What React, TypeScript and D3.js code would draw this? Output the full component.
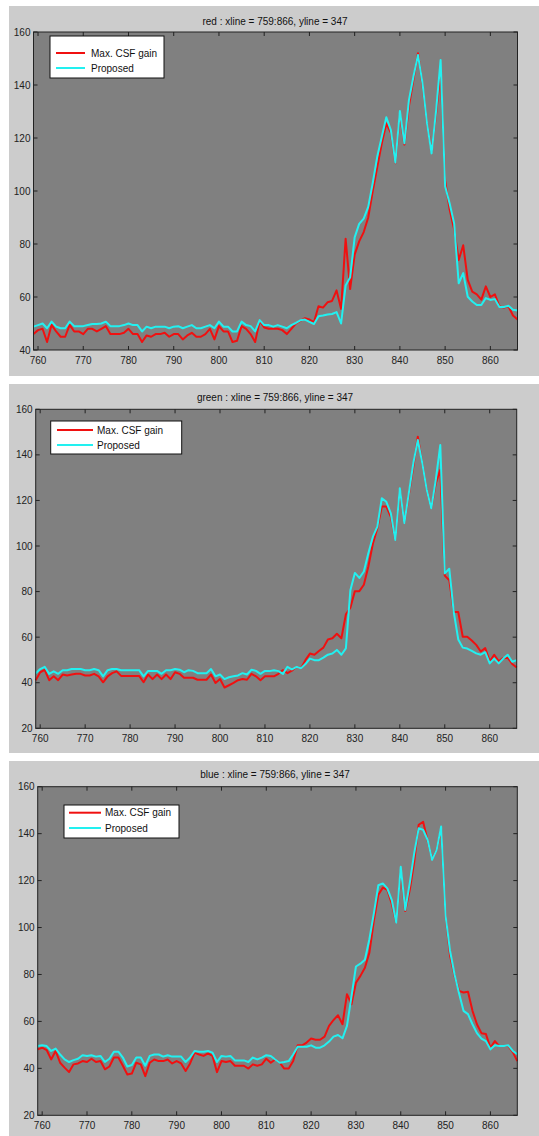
import React from 'react';
import * as d3 from 'd3';

// xline = 759:866
const xline = d3.range(759, 867);
const xTicks = [760, 770, 780, 790, 800, 810, 820, 830, 840, 850, 860];
const seriesNames = ['Max. CSF gain', 'Proposed'];

const redCsf = [
  46, 47.5, 48, 43, 49.5, 47, 45, 45, 49.5, 47, 47, 46, 48, 48, 47, 48, 49, 46, 46, 46,
  46.5, 48, 46, 46, 43, 45.5, 45, 46, 46, 46.5, 45, 46, 46, 44, 45.5, 46.5, 45, 45, 46, 48,
  44, 49, 47, 47, 43, 43.5, 49, 48, 46, 43, 51, 48.5, 48, 48, 48, 47.5, 46, 48, 50, 51,
  52, 51.5, 50.5, 56.5, 56, 58, 58.5, 62.5, 55.5, 82, 63, 76, 81, 84.5, 90, 100, 109, 118, 125.5, 122,
  110.5, 129, 117.5, 132, 142, 152, 140, 125.5, 115, 129, 145, 104, 93, 85.5, 74, 79.5, 66.5, 62, 61, 59,
  64, 60, 61, 56.5, 56, 56.5, 53, 51.5,
];
const redProp = [
  48.8, 49.4, 50, 48.2, 50.7, 48.8, 48.2, 48.2, 50.7, 49, 49, 49, 49.4, 49.8, 49.8, 50, 50.7, 49, 49, 49,
  49.4, 50, 49.4, 49.4, 47, 48.8, 48.2, 48.8, 48.8, 48.8, 48.2, 48.8, 49, 48.2, 48.8, 49.4, 48.2, 48.2, 48.8, 49.4,
  48.2, 50.7, 48.8, 48.8, 47, 47, 50.7, 49.4, 49, 47, 51.3, 49.4, 49.4, 48.8, 49.4, 48.8, 48.2, 49.4, 50.2, 51.2,
  51.5, 50.6, 49.8, 52.7, 53, 53.4, 53.6, 54.3, 50, 64.3, 67.4, 82.5, 87.6, 89.6, 94, 103, 113, 120.5, 127.8, 123,
  110.7, 130.2, 118, 134.3, 143.2, 151.3, 140.7, 125.5, 114.2, 130.2, 149.4, 101.8, 95.3, 87.7, 65.2, 69, 60.1, 58.3, 57, 57,
  59.6, 58.9, 59.2, 56.2, 56.2, 56.7, 55.2, 54.9,
];

const greenCsf = [
  41.1, 44.6, 45.6, 41.1, 42.8, 41.1, 43.6, 43.2, 43.6, 43.9, 43.9, 43.2, 43.2, 43.9, 42.8, 40.2, 42.8, 44.2, 45, 43,
  43, 43, 43, 43, 40.2, 43.6, 41.6, 43.6, 41.6, 43.6, 41.6, 44.6, 43.9, 42.2, 42.2, 42.2, 41.3, 41.3, 41.3, 43.6,
  39.9, 41.6, 37.9, 38.9, 39.9, 41.1, 41.6, 41.3, 43.9, 42.8, 41.1, 42.8, 42.8, 42.8, 43.9, 45.6, 44.2, 45.3, 47, 46.3,
  49.9, 52.8, 52.3, 53.9, 55.4, 59, 59.5, 61.5, 59.5, 70, 72.9, 80.2, 80.2, 83, 91, 101, 107.8, 117.3, 117.3, 112.8,
  102.6, 124.6, 110, 122.5, 134.8, 148, 136.3, 124.6, 116.5, 127.5, 133.4, 87, 85, 71, 71, 60.2, 60.2, 58.5, 56.6, 53.7,
  55.2, 49.4, 52.3, 49.4, 50.9, 51, 48.2, 46.7,
];
const greenProp = [
  44.1, 46, 47, 43.9, 45, 43.9, 45.5, 45.5, 46, 46, 46, 45.5, 45.5, 46, 45.5, 42.8, 45.5, 46, 46, 45.5,
  45.5, 45.5, 45.5, 45.5, 42.8, 45.2, 45.2, 45.2, 43.9, 45.5, 45.5, 46, 45.7, 44.6, 45.5, 45.2, 44.2, 44.2, 44.2, 46,
  42.8, 43.6, 41.6, 42.4, 42.8, 43.2, 44.2, 43.6, 45.7, 45.2, 43.9, 45.2, 45.1, 45.5, 45.1, 43.9, 47, 45.8, 47, 46.3,
  48.2, 50.6, 49.9, 49.9, 51, 52.3, 52.8, 54.4, 52.3, 55.1, 80.6, 88.2, 86, 88.8, 96.8, 104, 108.5, 121, 119.4, 114.3,
  102.6, 125.4, 110, 123.2, 136.3, 146.5, 136.3, 124.6, 116.5, 129, 144.3, 88, 90, 71, 59, 55.4, 55, 54, 52.9, 52.3,
  53.4, 48.5, 50.6, 48.5, 50.6, 52.3, 49.2, 49.9,
];

const blueCsf = [
  48.1, 48.8, 47.8, 43.8, 47.4, 42.4, 40.3, 38.4, 41.7, 42.1, 43.1, 42.7, 44.1, 42.7, 43.1, 39.6, 40.8, 44.6, 44.6, 41.1,
  37.4, 37.8, 42.4, 41.7, 36.7, 42.4, 43.8, 43.1, 43.1, 43.8, 42.1, 43.1, 42.1, 38.9, 42.1, 46.7, 45.9, 45.3, 46.4, 45.3,
  38.4, 43.1, 42.7, 43.1, 41.1, 41.1, 41.1, 39.9, 41.7, 41.1, 41.7, 44.1, 42.4, 43.8, 42.4, 39.9, 39.9, 43.1, 49.8, 49.8,
  51, 52.7, 52.2, 52.2, 53.5, 58.1, 60.6, 62.6, 58.8, 71.6, 67.3, 76.5, 79.4, 82.9, 89.3, 103, 114, 117, 116, 110,
  102, 124, 107, 116, 128, 143.8, 145, 137, 129, 133, 142, 105, 88, 79.4, 73, 72.3, 72.6, 64.5, 58.8, 55,
  54.6, 48.8, 51.6, 49.5, 49.5, 49.5, 46.9, 43.1,
];
const blueProp = [
  49.5, 49.8, 49.5, 47.4, 48.4, 45.9, 43.8, 42.7, 43.5, 44.1, 45.6, 45.3, 45.6, 45, 45.3, 42.7, 44.1, 47.1, 47.1, 44.6,
  40.8, 41.4, 44.6, 44.6, 41.1, 45.3, 45.9, 45.9, 45, 45.6, 45, 45, 45, 42.7, 44.6, 47.4, 47.1, 47.1, 47.4, 46.7,
  42.7, 45.3, 45, 45.3, 43.4, 43.4, 43.4, 42.7, 44.6, 43.8, 44.6, 45.6, 45.3, 43.8, 42.4, 42.7, 43.1, 45.9, 49.2, 49.2,
  49.2, 49.8, 48.8, 48.8, 49.8, 51.4, 53.5, 54.2, 52.8, 58.1, 70.6, 83.4, 84.6, 86.3, 95, 106, 118, 118.8, 116.7, 111.7,
  102, 125.9, 107.5, 118.8, 131.6, 142.3, 141.6, 137.3, 128.8, 133, 143, 105, 90, 80, 72, 64.5, 63.1, 58.8, 55, 52.7,
  51.6, 48.1, 49.8, 49.5, 49.5, 49.8, 47.4, 46,
];

const FIG_BG = '#cccccc';
const AX_BG = '#808080';
const RED = '#f01010';
const CYAN = '#22f0f0';
const FONT = "'Liberation Sans', Arial, sans-serif";

interface PanelProps {
  title: string;
  csf: number[];
  prop: number[];
  yDomain: [number, number];
  figTop: number;
  figBottom: number;
  left: number;
  right: number;
  top: number;
  bottom: number;
  titleY: number;
  legend: { x0: number; x1: number; y0: number; y1: number; lx0: number; lx1: number; ly: number[]; tx: number };
}

function Panel(p: PanelProps) {
  const x = d3.scaleLinear().domain([759, 866]).range([p.left, p.right]);
  const y = d3.scaleLinear().domain(p.yDomain).range([p.bottom, p.top]);
  const yTicks = d3.range(p.yDomain[0], p.yDomain[1] + 1, 20);
  const line = d3
    .line<number>()
    .x((_, i) => x(xline[i]))
    .y((d) => y(d));
  const tl = 4;
  return (
    <g>
      <rect x={9} y={p.figTop} width={530} height={p.figBottom - p.figTop} fill={FIG_BG} />
      <text x={275} y={p.titleY} textAnchor="middle" fontSize={10} fontFamily={FONT} fill="#111">
        {p.title}
      </text>
      <rect x={p.left} y={p.top} width={p.right - p.left} height={p.bottom - p.top} fill={AX_BG} />
      <path d={line(p.csf) || ''} fill="none" stroke={RED} strokeWidth={2} strokeLinejoin="round" />
      <path d={line(p.prop) || ''} fill="none" stroke={CYAN} strokeWidth={2} strokeLinejoin="round" />
      {/* box */}
      <rect x={p.left} y={p.top} width={p.right - p.left} height={p.bottom - p.top} fill="none" stroke="#222" strokeWidth={1} />
      {xTicks.map((t) => (
        <g key={'x' + t}>
          <line x1={x(t)} x2={x(t)} y1={p.bottom} y2={p.bottom - tl} stroke="#222" />
          <line x1={x(t)} x2={x(t)} y1={p.top} y2={p.top + tl} stroke="#222" />
          <text x={x(t)} y={p.bottom + 14} textAnchor="middle" fontSize={10} fontFamily={FONT} fill="#222">
            {t}
          </text>
        </g>
      ))}
      {yTicks.map((t) => (
        <g key={'y' + t}>
          <line x1={p.left} x2={p.left + tl} y1={y(t)} y2={y(t)} stroke="#222" />
          <line x1={p.right} x2={p.right - tl} y1={y(t)} y2={y(t)} stroke="#222" />
          <text x={p.left - 3} y={y(t) + 3.5} textAnchor="end" fontSize={10} fontFamily={FONT} fill="#222">
            {t}
          </text>
        </g>
      ))}
      <rect
        x={p.legend.x0}
        y={p.legend.y0}
        width={p.legend.x1 - p.legend.x0}
        height={p.legend.y1 - p.legend.y0}
        fill="#fff"
        stroke="#111"
        strokeWidth={1}
      />
      {seriesNames.map((name, i) => (
        <g key={name}>
          <line
            x1={p.legend.lx0}
            x2={p.legend.lx1}
            y1={p.legend.ly[i]}
            y2={p.legend.ly[i]}
            stroke={i === 0 ? RED : CYAN}
            strokeWidth={2}
          />
          <text x={p.legend.tx} y={p.legend.ly[i] + 3.5} fontSize={10} fontFamily={FONT} fill="#111">
            {name}
          </text>
        </g>
      ))}
    </g>
  );
}

export default function App() {
  return (
    <svg width={539} height={1136} style={{ position: 'absolute', left: 0, top: 0, background: '#fff' }}>
      <Panel
        title="red : xline = 759:866, yline = 347"
        csf={redCsf}
        prop={redProp}
        yDomain={[40, 160]}
        figTop={6}
        figBottom={376}
        left={33.5}
        right={517.5}
        top={32}
        bottom={350}
        titleY={24.5}
        legend={{ x0: 50, x1: 164, y0: 36, y1: 78, lx0: 56, lx1: 85, ly: [53, 68], tx: 91 }}
      />
      <Panel
        title="green : xline = 759:866, yline = 347"
        csf={greenCsf}
        prop={greenProp}
        yDomain={[20, 160]}
        figTop={384}
        figBottom={753}
        left={35.7}
        right={516.7}
        top={409.3}
        bottom={728.3}
        titleY={400.5}
        legend={{ x0: 50.7, x1: 181.7, y0: 421, y1: 454, lx0: 57, lx1: 93, ly: [430, 445], tx: 97 }}
      />
      <Panel
        title="blue : xline = 759:866, yline = 347"
        csf={blueCsf}
        prop={blueProp}
        yDomain={[20, 160]}
        figTop={761}
        figBottom={1136}
        left={37.7}
        right={517.3}
        top={786.7}
        bottom={1115.3}
        titleY={777.5}
        legend={{ x0: 64, x1: 179, y0: 805, y1: 838, lx0: 69, lx1: 101, ly: [812.7, 828], tx: 105 }}
      />
    </svg>
  );
}
